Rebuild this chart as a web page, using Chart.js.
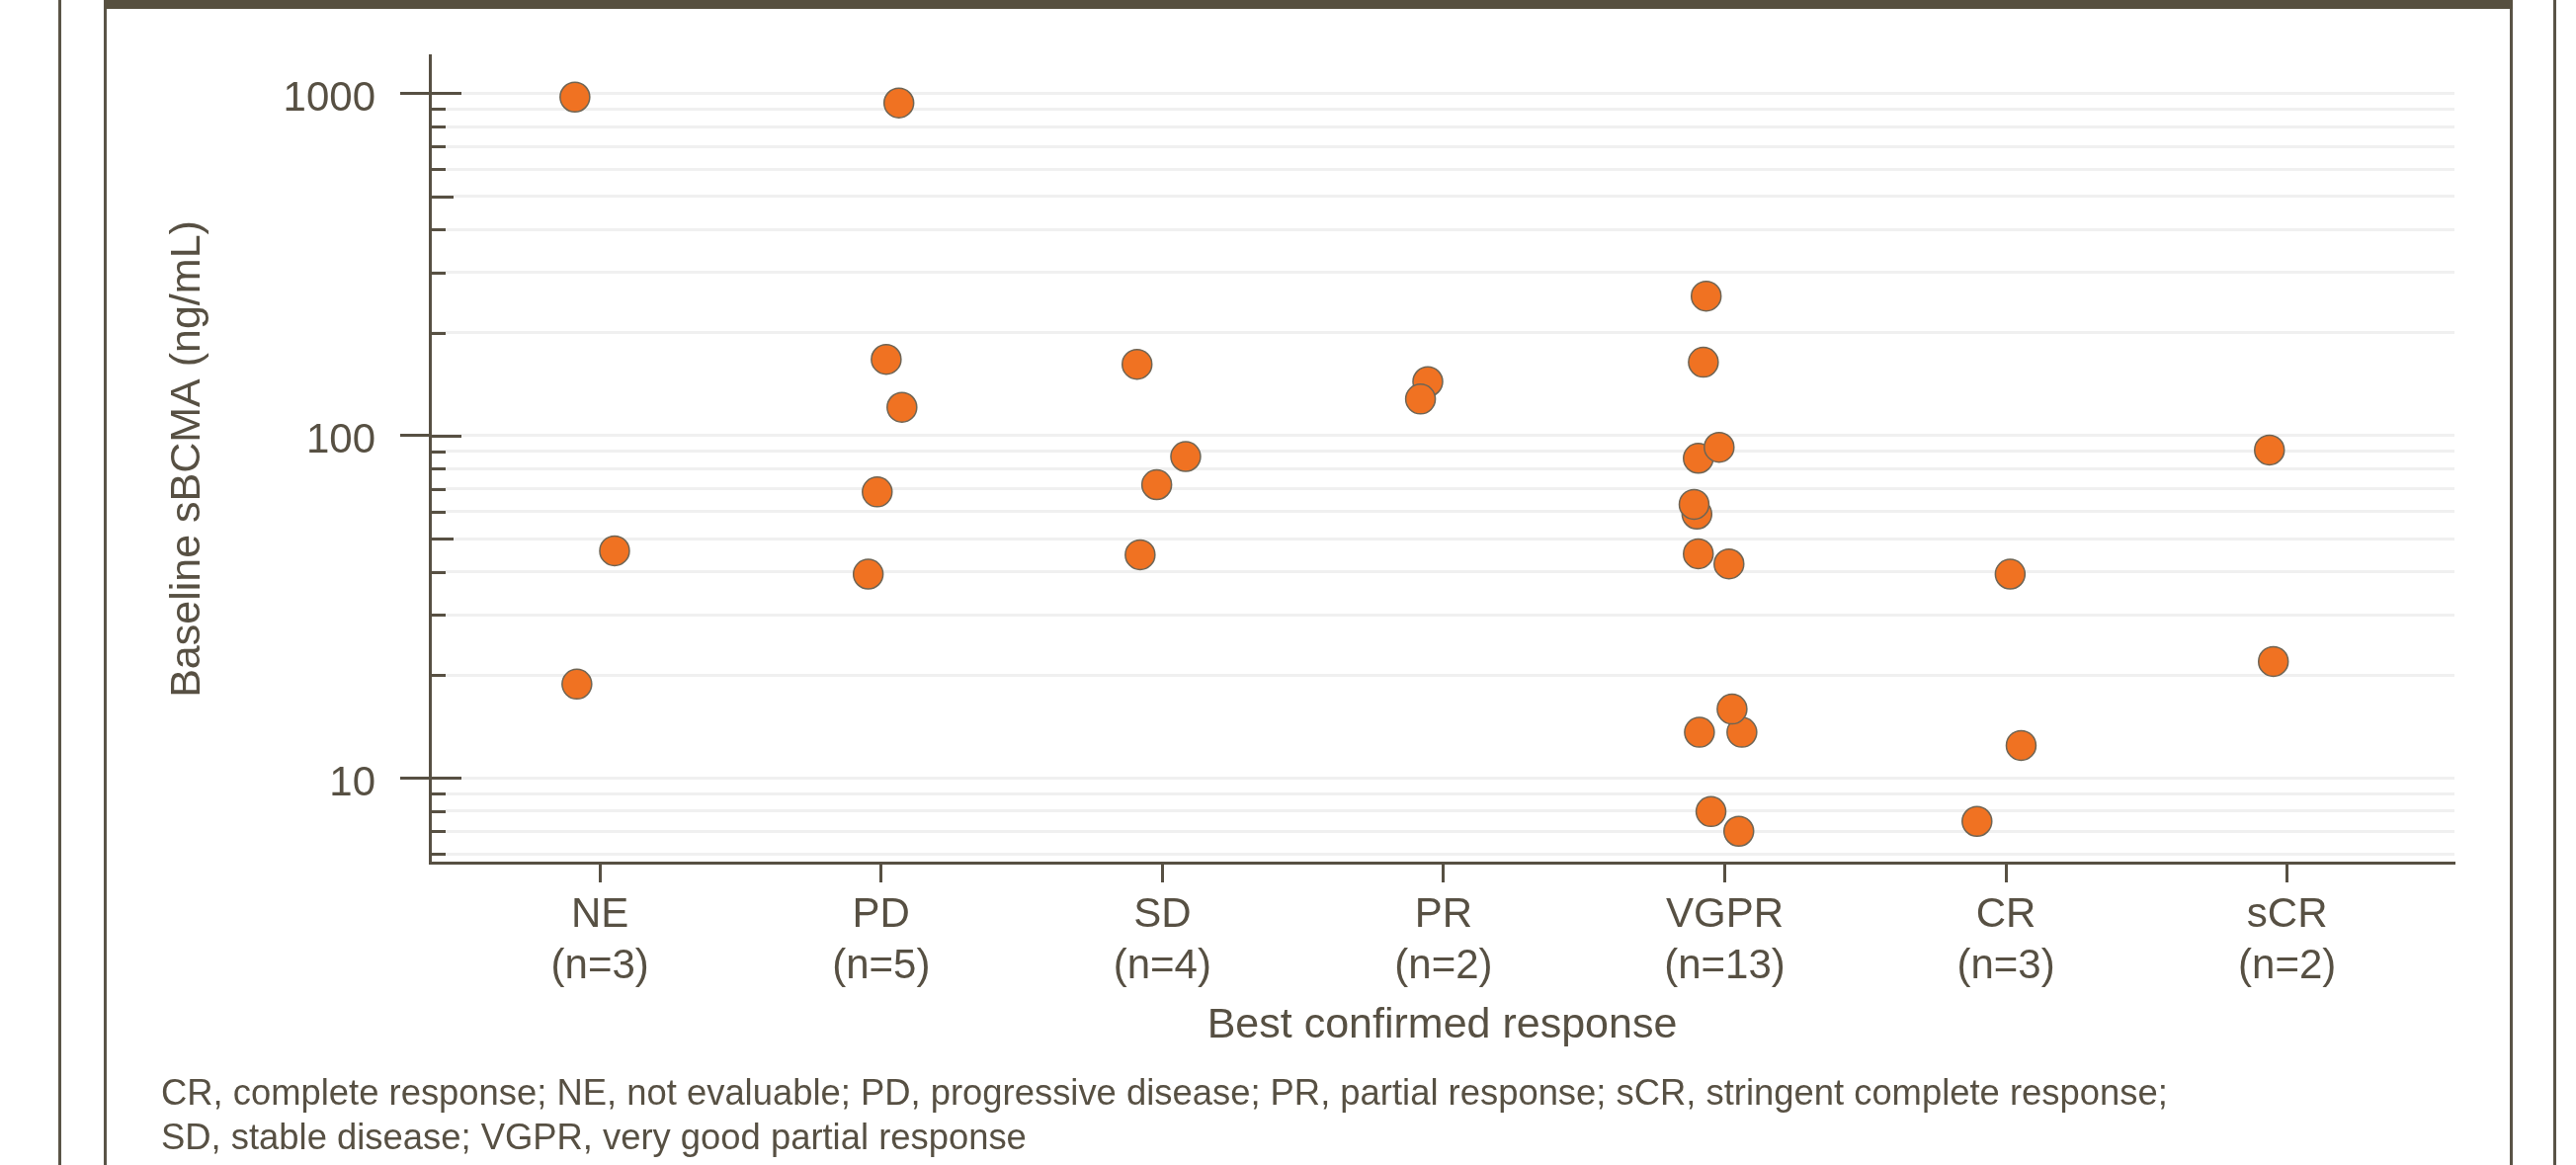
<!DOCTYPE html>
<html><head><meta charset="utf-8">
<script src="https://cdn.jsdelivr.net/npm/chart.js@4/dist/chart.umd.min.js"></script>
<style>
html,body{margin:0;padding:0;background:#fff;}
#wrap{position:relative;width:2607px;height:1179px;overflow:hidden;background:#fff;}
canvas{position:absolute;left:0;top:0;}
.vline{position:absolute;top:0;height:1179px;width:3px;background:#5a5447;}
.topbar{position:absolute;left:106px;top:0;width:2437px;height:9px;background:#575040;}
#foot{position:absolute;left:163px;top:1083px;font-family:"Liberation Sans",Arial,sans-serif;font-size:36.4px;line-height:45px;color:#575043;white-space:nowrap;}
</style></head>
<body><div id="wrap">
<div class="vline" style="left:59px"></div>
<div class="vline" style="left:105px"></div>
<div class="vline" style="left:2540px"></div>
<div class="vline" style="left:2584px"></div>
<div class="topbar"></div>
<canvas id="c" width="2607" height="1179"></canvas>
<div id="foot">CR, complete response; NE, not evaluable; PD, progressive disease; PR, partial response; sCR, stringent complete response;<br>SD, stable disease; VGPR, very good partial response</div>
</div>
<script>
// ---- data ----
const categories = ['NE', 'PD', 'SD', 'PR', 'VGPR', 'CR', 'sCR'];
const counts = ['(n=3)', '(n=5)', '(n=4)', '(n=2)', '(n=13)', '(n=3)', '(n=2)'];

const neValues   = [975, 46.1, 18.8];
const neOffsets  = [-0.089, 0.052, -0.082];
const pdValues   = [937, 167, 121, 68.5, 39.4];
const pdOffsets  = [0.063, 0.018, 0.074, -0.014, -0.046];
const sdValues   = [161.6, 86.9, 71.9, 44.9];
const sdOffsets  = [-0.090, 0.083, -0.020, -0.079];
const prValues   = [143.8, 127.9];
const prOffsets  = [-0.056, -0.082];
const vgprValues  = [255.6, 163.9, 85.9, 92.5, 59.0, 63.0, 45.2, 42.2, 13.6, 15.9, 13.6, 7.98, 6.99];
const vgprOffsets = [-0.066, -0.076, -0.094, -0.020, -0.099, -0.109, -0.094, 0.015, 0.061, 0.026, -0.090, -0.049, 0.050];
const crValues   = [39.4, 12.45, 7.47];
const crOffsets  = [0.015, 0.054, -0.103];
const scrValues  = [90.8, 21.9];
const scrOffsets = [-0.063, -0.049];

const yTickValues = [6, 7, 8, 9, 10, 20, 30, 40, 50, 60, 70, 80, 90, 100, 200, 300, 400, 500, 600, 700, 800, 900, 1000];
const yLabelValues = [10, 100, 1000];
const yMediumValues = [50, 500];

const xTitle = 'Best confirmed response';
const yTitle = 'Baseline sBCMA (ng/mL)';

// ---- build ----
const groups = [
  [neValues, neOffsets], [pdValues, pdOffsets], [sdValues, sdOffsets], [prValues, prOffsets],
  [vgprValues, vgprOffsets], [crValues, crOffsets], [scrValues, scrOffsets]
];
const points = [];
groups.forEach(([vals, offs], i) => {
  vals.forEach((v, k) => points.push({x: i + offs[k], y: v}));
});

const ink = '#575043';
const FONT = '"Liberation Sans", Arial, Helvetica, sans-serif';
Chart.defaults.font.family = FONT;
Chart.defaults.color = ink;

const innerTicks = {
  id: 'innerTicks',
  beforeDatasetsDraw(chart) {
    const ys = chart.scales.y, ctx = chart.ctx, left = chart.chartArea.left;
    ctx.save();
    ctx.strokeStyle = ink;
    ctx.lineWidth = 3;
    yTickValues.forEach(v => {
      const p = Math.round(ys.getPixelForValue(v)) + 0.5;
      const len = yLabelValues.includes(v) ? 32 : (yMediumValues.includes(v) ? 24 : 16);
      ctx.beginPath();
      ctx.moveTo(left, p);
      ctx.lineTo(left + len, p);
      ctx.stroke();
    });
    ctx.restore();
  }
};

new Chart(document.getElementById('c'), {
  type: 'scatter',
  data: {
    datasets: [{
      data: points,
      backgroundColor: '#F07222',
      borderColor: '#6e6555',
      borderWidth: 1.5,
      pointRadius: 15,
      pointHoverRadius: 15
    }]
  },
  plugins: [innerTicks],
  options: {
    responsive: false,
    animation: false,
    devicePixelRatio: 1,
    layout: {padding: {top: 56, right: 123, bottom: 89, left: 0}},
    plugins: {legend: {display: false}, tooltip: {enabled: false}},
    scales: {
      x: {
        type: 'linear',
        min: -0.605, max: 6.595,
        afterBuildTicks: s => { s.ticks = categories.map((c, i) => ({value: i})); },
        afterFit: s => { s.height = 217; },
        ticks: {
          autoSkip: false, maxRotation: 0,
          callback: v => [categories[v], counts[v]],
          font: {size: 42, lineHeight: 1.25},
          color: ink,
          padding: 7
        },
        grid: {display: true, drawOnChartArea: false, drawTicks: true, tickLength: 20, tickWidth: 3, tickColor: ink},
        border: {display: true, color: ink, width: 3},
        title: {display: true, text: xTitle, font: {size: 43}, color: ink, padding: {top: 0, bottom: 26}}
      },
      y: {
        type: 'logarithmic',
        min: 5.66, max: 1291,
        afterBuildTicks: s => { s.ticks = yTickValues.map(v => ({value: v})); },
        afterFit: s => { s.width = 435; },
        ticks: {
          autoSkip: false,
          callback: v => yLabelValues.includes(v) ? String(v) : '',
          font: {size: 42},
          color: ink,
          padding: 25,
          labelOffset: 6
        },
        grid: {
          display: true, drawOnChartArea: true, drawTicks: true,
          color: '#f0f0f0', lineWidth: 3,
          tickLength: 30, tickWidth: 3,
          tickColor: c => (c.tick && yLabelValues.includes(c.tick.value)) ? ink : 'rgba(0,0,0,0)'
        },
        border: {display: true, color: ink, width: 3},
        title: {display: true, text: yTitle, font: {size: 43}, color: ink, padding: {top: 164, bottom: 0}}
      }
    }
  }
});
</script>
</body></html>
